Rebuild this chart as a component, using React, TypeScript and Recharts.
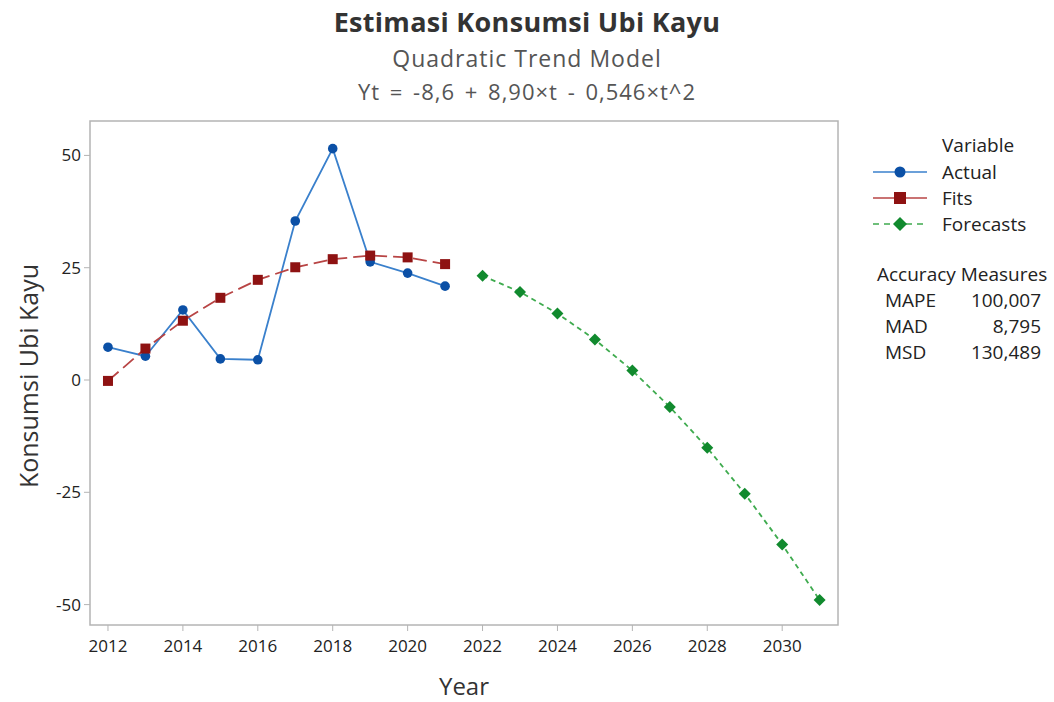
import React from 'react';
import { LineChart, Line, XAxis, YAxis } from 'recharts';

// tahun dan nilai yang dibaca dari grafik
const actualYears = [2012, 2013, 2014, 2015, 2016, 2017, 2018, 2019, 2020, 2021];
const actualValues = [7.3, 5.3, 15.6, 4.7, 4.5, 35.4, 51.5, 26.3, 23.8, 20.9];
const fitValues = [-0.2, 7.0, 13.2, 18.3, 22.3, 25.1, 26.9, 27.7, 27.3, 25.8];
const forecastYears = [2022, 2023, 2024, 2025, 2026, 2027, 2028, 2029, 2030, 2031];
const forecastValues = [23.2, 19.6, 14.8, 9.0, 2.1, -6.0, -15.1, -25.3, -36.6, -49.0];

const xTicks = [2012, 2014, 2016, 2018, 2020, 2022, 2024, 2026, 2028, 2030];
const yTicks = [-50, -25, 0, 25, 50];

const accuracy = [
  { name: 'MAPE', value: '100,007' },
  { name: 'MAD', value: '8,795' },
  { name: 'MSD', value: '130,489' },
];

const FONT = '"Open Sans", "Noto Sans", sans-serif';
const BLUE = '#0b50a6';
const BLUE_LINE = '#3a80cc';
const RED = '#8e1212';
const RED_LINE = '#b84444';
const GREEN = '#118a2e';
const GREEN_LINE = '#3fab4f';

const actualData = actualYears.map((year, i) => ({ year, value: actualValues[i] }));
const fitData = actualYears.map((year, i) => ({ year, value: fitValues[i] }));
const forecastData = forecastYears.map((year, i) => ({ year, value: forecastValues[i] }));

const CircleDot = (props: any) => {
  const { cx, cy, key } = props;
  if (cx == null || cy == null) return null;
  return <circle key={key} cx={cx} cy={cy} r={4.8} fill={BLUE} />;
};

const SquareDot = (props: any) => {
  const { cx, cy, key } = props;
  if (cx == null || cy == null) return null;
  return <rect key={key} x={cx - 5} y={cy - 5} width={10} height={10} fill={RED} />;
};

const DiamondDot = (props: any) => {
  const { cx, cy, key } = props;
  if (cx == null || cy == null) return null;
  const s = 6;
  return <path key={key} d={`M${cx},${cy - s}L${cx + s},${cy}L${cx},${cy + s}L${cx - s},${cy}Z`} fill={GREEN} />;
};

const LegendRow = ({ center, color, lineColor, dash, marker, label }: any) => (
  <div style={{ position: 'absolute', left: 873, top: center - 10, height: 20, width: 180 }}>
    <svg width={56} height={20} style={{ position: 'absolute', left: 0, top: 0 }}>
      <line x1={0} y1={10} x2={54} y2={10} stroke={lineColor} strokeWidth={1.5} strokeDasharray={dash} />
      {marker === 'circle' && <circle cx={27} cy={10} r={5.5} fill={color} />}
      {marker === 'square' && <rect x={21} y={4} width={12} height={12} fill={color} />}
      {marker === 'diamond' && <path d="M27,3L34,10L27,17L20,10Z" fill={color} />}
    </svg>
    <span style={{ position: 'absolute', left: 69, top: 0, lineHeight: '20px', fontSize: 19, color: '#222', whiteSpace: 'nowrap' }}>{label}</span>
  </div>
);

export default function App() {
  return (
    <div style={{ position: 'fixed', left: 0, top: 0, width: 1054, height: 702, background: '#fff', fontFamily: FONT }}>
      <div style={{ position: 'absolute', left: 0, width: 1054, top: 3, textAlign: 'center', fontSize: 27, fontWeight: 700, letterSpacing: 0.3, color: '#333' }}>
        Estimasi Konsumsi Ubi Kayu
      </div>
      <div style={{ position: 'absolute', left: 0, width: 1054, top: 42, textAlign: 'center', fontSize: 23, letterSpacing: 1, color: '#555' }}>
        Quadratic Trend Model
      </div>
      <div style={{ position: 'absolute', left: 0, width: 1054, top: 76, textAlign: 'center', fontSize: 22, letterSpacing: 1, wordSpacing: 3, color: '#555' }}>
        Yt = -8,6 + 8,90×t - 0,546×t^2
      </div>

      <LineChart
        width={1054}
        height={702}
        margin={{ top: 121, right: 216, bottom: 47, left: 30 }}
        style={{ position: 'absolute', left: 0, top: 0 }}
      >
        <rect x={90} y={121} width={748} height={504} fill="none" stroke="#b4b4b4" strokeWidth={1.5} />
        <XAxis
          dataKey="year"
          type="number"
          domain={[2011.52, 2031.49]}
          ticks={xTicks}
          allowDataOverflow
          height={30}
          axisLine={false}
          tickLine={{ stroke: '#b4b4b4' }}
          tickSize={6}
          tick={{ fill: '#222', fontSize: 17, fontFamily: FONT }}
          tickMargin={9}
          allowDuplicatedCategory={false}
        />
        <YAxis
          type="number"
          domain={[-54.54, 57.66]}
          ticks={yTicks}
          allowDataOverflow
          width={60}
          axisLine={false}
          tickLine={{ stroke: '#b4b4b4' }}
          tickSize={6}
          tick={{ fill: '#222', fontSize: 17, fontFamily: FONT }}
          tickMargin={3}
        />
        <Line data={actualData} dataKey="value" stroke={BLUE_LINE} strokeWidth={1.8} dot={CircleDot} activeDot={false} isAnimationActive={false} />
        <Line data={fitData} dataKey="value" stroke={RED_LINE} strokeWidth={1.8} strokeDasharray="14 6" dot={SquareDot} activeDot={false} isAnimationActive={false} />
        <Line data={forecastData} dataKey="value" stroke={GREEN_LINE} strokeWidth={1.8} strokeDasharray="5 4" dot={DiamondDot} activeDot={false} isAnimationActive={false} />
      </LineChart>

      <div style={{ position: 'absolute', left: 0, top: 0, width: 56, height: 702 }}>
        <div style={{ position: 'absolute', left: 28, top: 376, transform: 'translate(-50%, -50%) rotate(-90deg)', whiteSpace: 'nowrap', fontSize: 25, lineHeight: '28px', color: '#333' }}>
          Konsumsi Ubi Kayu
        </div>
      </div>
      <div style={{ position: 'absolute', left: 0, width: 928, top: 673, height: 26, lineHeight: '26px', textAlign: 'center', fontSize: 24, color: '#333' }}>
        Year
      </div>

      <div style={{ position: 'absolute', left: 942, top: 135, lineHeight: '20px', fontSize: 19, color: '#222' }}>Variable</div>
      <LegendRow center={172} color={BLUE} lineColor={BLUE_LINE} marker="circle" label="Actual" />
      <LegendRow center={198} color={RED} lineColor={RED_LINE} marker="square" label="Fits" />
      <LegendRow center={224} color={GREEN} lineColor={GREEN_LINE} dash="6 5" marker="diamond" label="Forecasts" />

      <div style={{ position: 'absolute', left: 877, top: 264, lineHeight: '20px', fontSize: 19, color: '#222', whiteSpace: 'nowrap' }}>Accuracy Measures</div>
      {accuracy.map((a, i) => (
        <div key={a.name} style={{ position: 'absolute', left: 885, top: 290 + i * 26, width: 156, lineHeight: '20px', fontSize: 19, color: '#222' }}>
          <span>{a.name}</span>
          <span style={{ position: 'absolute', right: 0 }}>{a.value}</span>
        </div>
      ))}
    </div>
  );
}
